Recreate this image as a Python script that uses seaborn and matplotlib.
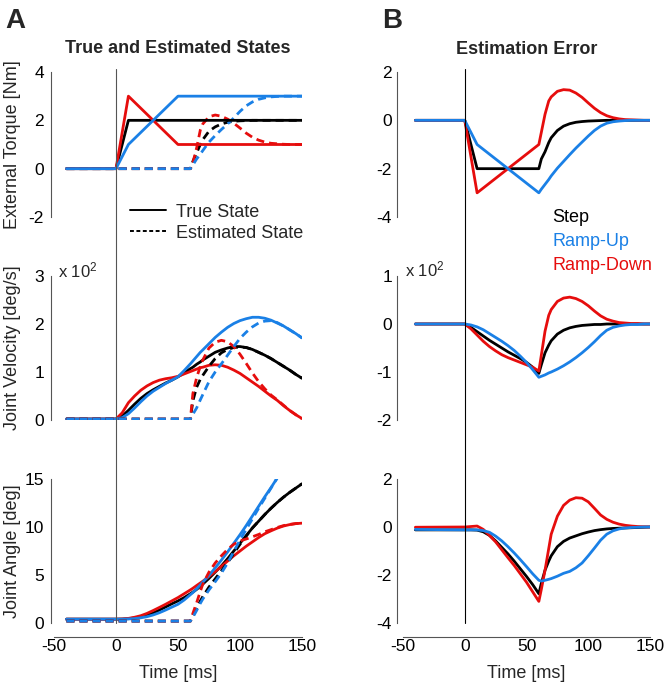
import numpy as np
import matplotlib
matplotlib.use("Agg")
import matplotlib.pyplot as plt
from matplotlib.lines import Line2D
from matplotlib.transforms import blended_transform_factory
import seaborn as sns

nan = np.nan

# === Data ===
time_ms = [-40, 0, 5, 10, 15, 20, 25, 30, 35, 40, 45, 50, 55, 60, 62, 65, 68,
           70, 75, 80, 85, 90, 95, 100, 105, 110, 115, 120, 125, 130, 135, 140, 145, 150]

# external torque [Nm]
torque_true_step = [0, 0, 1, 2, 2, 2, 2, 2, 2, 2, 2, 2, 2, 2, 2, 2, 2,
                    2, 2, 2, 2, 2, 2, 2, 2, 2, 2, 2, 2, 2, 2, 2, 2, 2]
torque_true_up = [0, 0, 0.5, 1, 1.25, 1.5, 1.75, 2, 2.25, 2.5, 2.75, 3, 3, 3, 3, 3, 3,
                  3, 3, 3, 3, 3, 3, 3, 3, 3, 3, 3, 3, 3, 3, 3, 3, 3]
torque_true_down = [0, 0, 1.5, 3, 2.75, 2.5, 2.25, 2, 1.75, 1.5, 1.25, 1, 1, 1, 1, 1, 1,
                    1, 1, 1, 1, 1, 1, 1, 1, 1, 1, 1, 1, 1, 1, 1, 1, 1]
torque_est_step = [0, 0, 0, 0, 0, 0, 0, 0, 0, 0, 0, 0, 0, 0, 0.3, 0.65, 1.0,
                   1.2, 1.55, 1.73, 1.85, 1.92, 1.96, 1.98, 1.99, 2, 2, 2, 2, 2, 2, 2, 2, 2]
torque_est_up = [0, 0, 0, 0, 0, 0, 0, 0, 0, 0, 0, 0, 0, 0, 0.15, 0.4, 0.6,
                 0.75, 1.1, 1.37, 1.62, 1.85, 2.1, 2.37, 2.6, 2.76, 2.87, 2.93, 2.97, 2.99, 3, 3, 3, 3]
torque_est_down = [0, 0, 0, 0, 0, 0, 0, 0, 0, 0, 0, 0, 0, 0, 0.25, 0.85, 1.6,
                   1.85, 2.15, 2.22, 2.17, 2.05, 1.88, 1.68, 1.47, 1.3, 1.18, 1.1, 1.05, 1.03, 1.01, 1.0, 1.0, 1.0]

# joint velocity [x100 deg/s]
vel_true_step = [0.02, 0.02, 0.08, 0.2, 0.33, 0.45, 0.55, 0.63, 0.7, 0.77, 0.83, 0.9, 0.98, 1.07, 1.1, 1.16, 1.21,
                 1.25, 1.33, 1.41, 1.46, 1.5, 1.53, 1.53, 1.51, 1.47, 1.41, 1.35, 1.28, 1.2, 1.12, 1.04, 0.95, 0.87]
vel_true_up = [0.02, 0.02, 0.05, 0.13, 0.25, 0.38, 0.5, 0.6, 0.68, 0.76, 0.83, 0.9, 1.03, 1.17, 1.23, 1.32, 1.41,
               1.46, 1.59, 1.72, 1.83, 1.93, 2.01, 2.07, 2.11, 2.14, 2.14, 2.12, 2.08, 2.02, 1.96, 1.88, 1.8, 1.71]
vel_true_down = [0.02, 0.02, 0.15, 0.36, 0.5, 0.62, 0.71, 0.78, 0.83, 0.86, 0.88, 0.91, 0.96, 1.01, 1.03, 1.06, 1.09,
                 1.1, 1.14, 1.15, 1.14, 1.1, 1.04, 0.97, 0.88, 0.79, 0.7, 0.6, 0.5, 0.41, 0.3, 0.2, 0.11, 0.03]
vel_est_step = [0.02, 0.02, 0.02, 0.02, 0.02, 0.02, 0.02, 0.02, 0.02, 0.02, 0.02, 0.02, 0.02, 0.02, 0.4, 0.68, 0.85,
                0.93, 1.12, 1.28, 1.4, 1.47, 1.51, 1.52, 1.51, 1.47, 1.41, 1.35, 1.28, 1.2, 1.12, 1.04, 0.95, 0.87]
vel_est_up = [0.02, 0.02, 0.02, 0.02, 0.02, 0.02, 0.02, 0.02, 0.02, 0.02, 0.02, 0.02, 0.02, 0.02, 0.12, 0.25, 0.42,
              0.53, 0.8, 1.0, 1.17, 1.35, 1.53, 1.7, 1.83, 1.94, 2.02, 2.06, 2.07, 2.03, 1.96, 1.88, 1.8, 1.71]
vel_est_down = [0.02, 0.02, 0.02, 0.02, 0.02, 0.02, 0.02, 0.02, 0.02, 0.02, 0.02, 0.02, 0.02, 0.02, 0.55, 0.88, 1.12,
                1.25, 1.5, 1.62, 1.66, 1.63, 1.53, 1.37, 1.18, 0.98, 0.8, 0.65, 0.52, 0.42, 0.31, 0.2, 0.11, 0.03]

# joint angle [deg]
ang_true_step = [0.4, 0.4, 0.41, 0.45, 0.53, 0.65, 0.82, 1.05, 1.35, 1.67, 2.0, 2.3, 2.65, 3.05, 3.22, 3.5, 3.82,
                 4.05, 4.65, 5.3, 5.95, 6.7, 7.5, 8.3, 9.1, 9.9, 10.6, 11.3, 11.95, 12.55, 13.1, 13.6, 14.05, 14.5]
ang_true_up = [0.4, 0.4, 0.4, 0.42, 0.46, 0.54, 0.66, 0.84, 1.07, 1.35, 1.65, 1.95, 2.4, 2.95, 3.17, 3.55, 3.97,
               4.25, 4.95, 5.75, 6.55, 7.4, 8.3, 9.2, 10.15, 11.15, 12.15, 13.15, 14.1, 15.1, nan, nan, nan, nan]
ang_true_down = [0.4, 0.4, 0.42, 0.48, 0.6, 0.76, 1.0, 1.3, 1.62, 1.95, 2.3, 2.65, 3.05, 3.45, 3.62, 3.9, 4.17,
                 4.35, 4.85, 5.35, 5.9, 6.45, 7.0, 7.5, 8.0, 8.45, 8.9, 9.3, 9.6, 9.88, 10.1, 10.25, 10.35, 10.4]
ang_est_step = [0.2, 0.2, 0.2, 0.2, 0.2, 0.2, 0.2, 0.2, 0.2, 0.2, 0.2, 0.2, 0.2, 0.2, 0.7, 1.5, 2.3,
                2.75, 3.75, 4.6, 5.45, 6.3, 7.25, 8.2, 9.05, 9.9, 10.6, 11.3, 11.95, 12.55, 13.1, 13.6, 14.05, 14.5]
ang_est_up = [0.2, 0.2, 0.2, 0.2, 0.2, 0.2, 0.2, 0.2, 0.2, 0.2, 0.2, 0.2, 0.2, 0.2, 0.6, 1.3, 2.05,
              2.5, 3.45, 4.3, 5.2, 6.25, 7.45, 8.65, 9.75, 10.85, 11.95, 13.0, 14.05, 15.1, nan, nan, nan, nan]
ang_est_down = [0.2, 0.2, 0.2, 0.2, 0.2, 0.2, 0.2, 0.2, 0.2, 0.2, 0.2, 0.2, 0.2, 0.2, 1.0, 2.1, 3.3,
                4.05, 5.3, 6.25, 7.0, 7.67, 8.2, 8.55, 8.75, 8.98, 9.22, 9.5, 9.72, 9.95, 10.14, 10.27, 10.36, 10.4]

# estimation errors
torque_err_step = [0, 0, -1, -2, -2, -2, -2, -2, -2, -2, -2, -2, -2, -2, -1.6, -1.3, -0.92,
                   -0.72, -0.42, -0.24, -0.14, -0.08, -0.05, -0.03, -0.02, -0.01, 0, 0, 0, 0, 0, 0, 0, 0]
torque_err_up = [0, 0, -0.5, -1, -1.2, -1.4, -1.6, -1.8, -2.0, -2.2, -2.4, -2.6, -2.8, -3.0, -2.85, -2.65, -2.45,
                 -2.3, -1.98, -1.7, -1.42, -1.15, -0.9, -0.65, -0.42, -0.24, -0.12, -0.06, -0.03, -0.01, 0, 0, 0, 0]
torque_err_down = [0, 0, -1.5, -3, -2.8, -2.6, -2.4, -2.2, -2.0, -1.8, -1.6, -1.4, -1.2, -1.0, -0.5, 0.25, 0.8,
                   0.97, 1.2, 1.27, 1.25, 1.13, 0.95, 0.72, 0.5, 0.32, 0.19, 0.11, 0.06, 0.03, 0.02, 0.01, 0, 0]
vel_err_step = [0, 0, -0.07, -0.16, -0.25, -0.34, -0.42, -0.5, -0.58, -0.65, -0.72, -0.8, -0.9, -1.03, -0.85, -0.6, -0.44,
                -0.35, -0.21, -0.13, -0.08, -0.05, -0.03, -0.02, -0.01, -0.01, 0, 0, 0, 0, 0, 0, 0, 0]
vel_err_up = [0, 0, -0.02, -0.06, -0.12, -0.2, -0.28, -0.36, -0.45, -0.55, -0.67, -0.8, -0.95, -1.11, -1.09, -1.06, -1.02,
              -1.0, -0.94, -0.87, -0.79, -0.7, -0.6, -0.49, -0.37, -0.24, -0.13, -0.07, -0.04, -0.02, -0.01, -0.01, 0, 0]
vel_err_down = [0, 0, -0.1, -0.23, -0.36, -0.47, -0.56, -0.64, -0.7, -0.75, -0.8, -0.85, -0.9, -0.98, -0.65, -0.15, 0.18,
                0.3, 0.47, 0.54, 0.56, 0.53, 0.47, 0.38, 0.27, 0.17, 0.1, 0.06, 0.03, 0.02, 0.01, 0.01, 0, 0]
ang_err_step = [-0.12, -0.12, -0.12, -0.13, -0.2, -0.35, -0.58, -0.85, -1.12, -1.42, -1.74, -2.06, -2.4, -2.78, -2.35, -1.8, -1.42,
                -1.2, -0.82, -0.6, -0.46, -0.37, -0.28, -0.21, -0.15, -0.11, -0.08, -0.06, -0.05, -0.04, -0.03, -0.02, -0.01, 0]
ang_err_up = [-0.1, -0.12, -0.12, -0.12, -0.15, -0.22, -0.38, -0.58, -0.82, -1.08, -1.36, -1.65, -1.95, -2.22, -2.25, -2.22, -2.18,
              -2.15, -2.05, -1.93, -1.85, -1.7, -1.5, -1.2, -0.88, -0.55, -0.3, -0.16, -0.08, -0.04, -0.02, -0.01, 0, 0]
ang_err_down = [-0.01, 0, 0.02, 0.04, -0.1, -0.35, -0.62, -0.95, -1.28, -1.6, -1.95, -2.3, -2.7, -3.1, -2.6, -1.8, -0.9,
                -0.3, 0.45, 0.9, 1.12, 1.22, 1.2, 1.05, 0.78, 0.5, 0.32, 0.2, 0.12, 0.07, 0.04, 0.02, 0.01, 0]

conditions = ["Step", "Ramp-Up", "Ramp-Down"]
colors = {"Step": "black", "Ramp-Up": "#1a80e6", "Ramp-Down": "#e60d0d"}
draw_order = ["Step", "Ramp-Down", "Ramp-Up"]
grey = "#555555"
est_dash = (0, (2.9, 1.8))

# === Figure ===
sns.set_style("white")
plt.rcParams["font.family"] = ["Liberation Sans", "DejaVu Sans"]
plt.rcParams["axes.unicode_minus"] = False
plt.rcParams["mathtext.default"] = "regular"

W, H = 669, 687
fig = plt.figure(figsize=(W / 100, H / 100), dpi=100)


def px_axes(x0, x1, y0, y1):
    return fig.add_axes([x0 / W, 1 - y1 / H, (x1 - x0) / W, (y1 - y0) / H])


rows = [(72, 217), (276, 420), (479, 623)]
axes_left = [px_axes(54, 302, *r) for r in rows]
axes_right = [px_axes(403, 650, *r) for r in rows]


def style_axis(ax, ylim, yticks, offset, pad, bottom):
    ax.set_xlim(-50, 150)
    ax.set_ylim(*ylim)
    ax.set_facecolor("none")
    ax.spines["top"].set_visible(False)
    ax.spines["right"].set_visible(False)
    ax.spines["left"].set_position(("outward", offset))
    ax.spines["left"].set_bounds(*ylim)
    ax.spines["left"].set_color(grey)
    ax.spines["left"].set_linewidth(0.8)
    ax.set_yticks(yticks)
    ax.set_yticklabels([str(t) for t in yticks])
    ax.tick_params(axis="y", direction="in", length=3, width=0.8, color=grey,
                   labelsize=12.5, pad=pad, labelcolor="black")
    if bottom:
        ax.spines["bottom"].set_position(("outward", 10))
        ax.spines["bottom"].set_bounds(-50, 150)
        ax.spines["bottom"].set_color(grey)
        ax.spines["bottom"].set_linewidth(0.8)
        ax.set_xticks([-50, 0, 50, 100, 150])
        ax.set_xticklabels(["-50", "0", "50", "100", "150"])
        ax.tick_params(axis="x", direction="in", length=3, width=0.8, color=grey,
                       labelsize=12.5, pad=1.5, labelcolor="black")
        ax.set_xlabel("Time [ms]", fontsize=13)
        ax.xaxis.set_label_coords(0.5, -0.29)
    else:
        ax.spines["bottom"].set_visible(False)
        ax.set_xticks([])
        ax.set_xlabel("")


def draw(ax, series, dashed=False):
    for cond in draw_order:
        kw = {"linestyle": est_dash} if dashed else {}
        sns.lineplot(x=time_ms, y=series[cond], ax=ax, color=colors[cond], lw=2,
                     estimator=None, sort=False, **kw)


true_sets = [
    {"Step": torque_true_step, "Ramp-Up": torque_true_up, "Ramp-Down": torque_true_down},
    {"Step": vel_true_step, "Ramp-Up": vel_true_up, "Ramp-Down": vel_true_down},
    {"Step": ang_true_step, "Ramp-Up": ang_true_up, "Ramp-Down": ang_true_down},
]
est_sets = [
    {"Step": torque_est_step, "Ramp-Up": torque_est_up, "Ramp-Down": torque_est_down},
    {"Step": vel_est_step, "Ramp-Up": vel_est_up, "Ramp-Down": vel_est_down},
    {"Step": ang_est_step, "Ramp-Up": ang_est_up, "Ramp-Down": ang_est_down},
]
err_sets = [
    {"Step": torque_err_step, "Ramp-Up": torque_err_up, "Ramp-Down": torque_err_down},
    {"Step": vel_err_step, "Ramp-Up": vel_err_up, "Ramp-Down": vel_err_down},
    {"Step": ang_err_step, "Ramp-Up": ang_err_up, "Ramp-Down": ang_err_down},
]

# top row: estimate under the true curve, lower rows: estimate on top
draw(axes_left[0], est_sets[0], dashed=True)
draw(axes_left[0], true_sets[0])
for i in (1, 2):
    draw(axes_left[i], true_sets[i])
    draw(axes_left[i], est_sets[i], dashed=True)
for i in range(3):
    draw(axes_right[i], err_sets[i])

left_ylims = [(-2, 4), (0, 3), (0, 15)]
left_ticks = [[-2, 0, 2, 4], [0, 1, 2, 3], [0, 5, 10, 15]]
left_labels = ["External Torque [Nm]", "Joint Velocity [deg/s]", "Joint Angle [deg]"]
right_ylims = [(-4, 2), (-2, 1), (-4, 2)]
right_ticks = [[-4, -2, 0, 2], [-2, -1, 0, 1], [-4, -2, 0, 2]]

for i in range(3):
    style_axis(axes_left[i], left_ylims[i], left_ticks[i], 2.2, 5, i == 2)
    axes_left[i].set_ylabel(left_labels[i], fontsize=13)
    axes_left[i].yaxis.set_label_coords(-0.135, 0.5)
    style_axis(axes_right[i], right_ylims[i], right_ticks[i], 4.3, 3.6, i == 2)
    axes_right[i].set_ylabel("")

# stimulus onset line across all three rows
for ax, c in ((axes_left[0], grey), (axes_right[0], "black")):
    tr = blended_transform_factory(ax.transData, fig.transFigure)
    fig.add_artist(Line2D([0, 0], [1 - 69 / H, 1 - 623 / H], transform=tr, color=c, lw=0.8))

# titles and panel letters
fig.text(5 / W, 1 - 28 / H, "A", fontsize=20, fontweight="bold")
fig.text(382 / W, 1 - 28 / H, "B", fontsize=20, fontweight="bold")
fig.text(178 / W, 1 - 53 / H, "True and Estimated States", ha="center", fontsize=13, fontweight="bold")
fig.text(526.5 / W, 1 - 54 / H, "Estimation Error", ha="center", fontsize=13, fontweight="bold")

# scale notes
fig.text(58 / W, 1 - 277 / H, "x 10$^{2}$", fontsize=12)
fig.text(405 / W, 1 - 276 / H, "x 10$^{2}$", fontsize=12)

# legend A
fig.add_artist(Line2D([130 / W, 166 / W], [1 - 210 / H] * 2, color="black", lw=1.4))
fig.add_artist(Line2D([130 / W, 166 / W], [1 - 231 / H] * 2, color="black", lw=1.4,
                      linestyle=(0, (2, 1.3))))
fig.text(176 / W, 1 - 217 / H, "True State", fontsize=13)
fig.text(176 / W, 1 - 238 / H, "Estimated State", fontsize=13)

# legend B
for cond, base in zip(conditions, (222, 246, 270)):
    fig.text(552 / W, 1 - base / H, cond, fontsize=13, color=colors[cond])

fig.savefig("out.png", dpi=100)
